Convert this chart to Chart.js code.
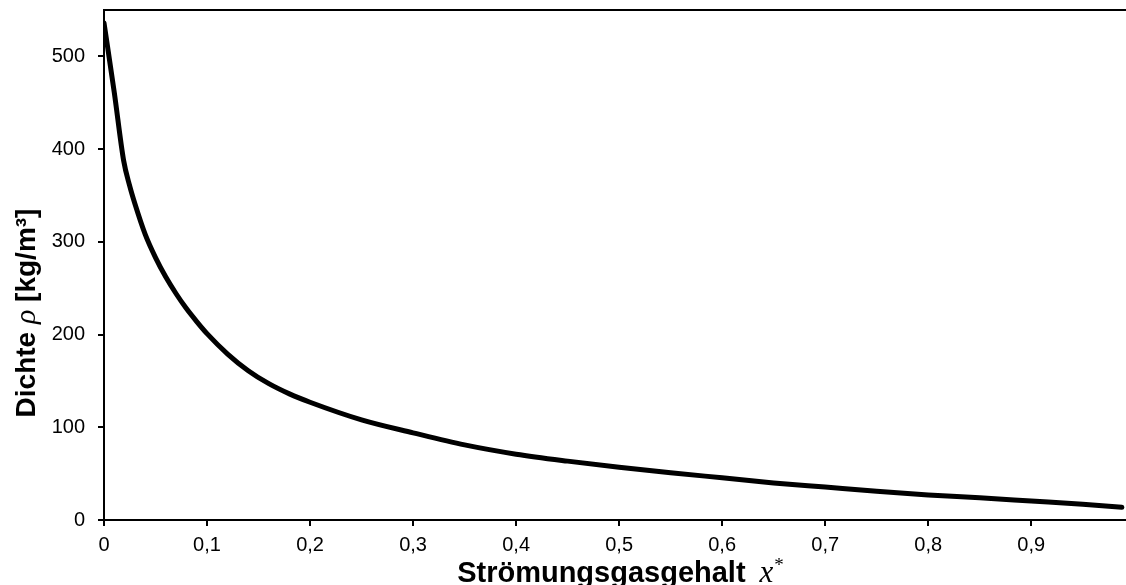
<!DOCTYPE html>
<html>
<head>
<meta charset="utf-8">
<script src="https://cdn.jsdelivr.net/npm/chart.js@4"></script>
<style>
  html, body { margin: 0; padding: 0; background: #fff; }
  #wrap { width: 1126px; height: 585px; }
</style>
</head>
<body>
<div id="wrap"><canvas id="densityChart" width="1126" height="585"></canvas></div>
<script>
// Strömungsgasgehalt x* and Dichte rho [kg/m3]
const gasContent = [0, 0.01, 0.019, 0.025, 0.03, 0.04, 0.05, 0.06, 0.07, 0.08, 0.09, 0.1,
  0.12, 0.14, 0.16, 0.18, 0.2, 0.25, 0.3, 0.35, 0.4, 0.45, 0.5, 0.55, 0.6,
  0.65, 0.7, 0.75, 0.8, 0.85, 0.9, 0.95, 0.988];
const density = [536, 461, 388, 360, 341, 308, 283, 262, 244, 228, 214, 201,
  179, 161, 147, 136, 127, 108, 94, 81, 71, 63.5, 57, 51, 45.5,
  40, 35.5, 31, 27, 24, 20.5, 17, 13.7];

const xMax = 0.992;
const yMax = 550;

const tickFont = { family: 'Liberation Sans, Arial, sans-serif', size: 20 };

const fmtComma = v => v === 0 ? '0' : (Math.round(v * 10) / 10).toFixed(1).replace('.', ',');

const noPad = s => { s.paddingTop = 0; s.paddingBottom = 0; s.paddingLeft = 0; s.paddingRight = 0; };

// axis titles with mixed fonts (bold sans + italic serif symbol)
const axisTitles = {
  id: 'axisTitles',
  afterDraw(chart) {
    const { ctx, chartArea } = chart;
    ctx.save();
    ctx.fillStyle = '#000';
    ctx.textBaseline = 'alphabetic';
    ctx.textAlign = 'left';

    // x title
    const boldX = 'bold 29px "Liberation Sans", Arial, sans-serif';
    const serifI = 'italic 31px "Liberation Serif", "Times New Roman", serif';
    const starF = '19px "Liberation Serif", "Times New Roman", serif';
    const t1 = 'Strömungsgasgehalt';
    ctx.font = boldX; const w1 = ctx.measureText(t1).width;
    ctx.font = serifI; const w2 = ctx.measureText('x').width;
    ctx.font = starF; const w3 = ctx.measureText('*').width;
    const gap = 14;
    let x = 620 - (w1 + gap + w2 + w3) / 2;
    const base = 582;
    ctx.font = boldX; ctx.fillText(t1, x, base); x += w1 + gap;
    ctx.font = serifI; ctx.fillText('x', x, base); x += w2 + 1;
    ctx.font = starF; ctx.fillText('*', x, base - 11);

    // y title, rotated
    const boldY = 'bold 28px "Liberation Sans", Arial, sans-serif';
    const rhoF = 'italic 30px "Liberation Serif", "Times New Roman", serif';
    const a = 'Dichte ', b = 'ρ', c = ' [kg/m³]';
    ctx.font = boldY; const wa = ctx.measureText(a).width, wc = ctx.measureText(c).width;
    ctx.font = rhoF; const wb = ctx.measureText(b).width;
    ctx.translate(35, 313);
    ctx.rotate(-Math.PI / 2);
    let p = -(wa + wb + wc) / 2;
    ctx.font = boldY; ctx.fillText(a, p, 0); p += wa;
    ctx.font = rhoF; ctx.fillText(b, p, 0); p += wb;
    ctx.font = boldY; ctx.fillText(c, p, 0);
    ctx.restore();

    // top frame line
    ctx.save();
    ctx.strokeStyle = '#000';
    ctx.lineWidth = 2;
    ctx.beginPath();
    ctx.moveTo(chartArea.left, chartArea.top);
    ctx.lineTo(chartArea.right, chartArea.top);
    ctx.stroke();
    ctx.restore();
  }
};

new Chart(document.getElementById('densityChart'), {
  type: 'line',
  data: {
    datasets: [{
      data: gasContent.map((g, i) => ({ x: g, y: density[i] })),
      borderColor: '#000',
      borderWidth: 5,
      borderCapStyle: 'round',
      borderJoinStyle: 'round',
      pointRadius: 0,
      cubicInterpolationMode: 'monotone',
      fill: false
    }]
  },
  options: {
    responsive: false,
    animation: false,
    layout: { padding: { top: 10, left: 0, right: 0, bottom: 0 } },
    plugins: { legend: { display: false }, tooltip: { enabled: false } },
    scales: {
      x: {
        type: 'linear',
        min: 0,
        max: xMax,
        border: { display: true, color: '#000', width: 2 },
        grid: { drawOnChartArea: false, drawTicks: true, tickLength: 6, color: '#000', lineWidth: 2 },
        ticks: {
          stepSize: 0.1,
          includeBounds: false,
          color: '#000',
          font: tickFont,
          padding: 7,
          maxRotation: 0,
          autoSkip: false,
          callback: fmtComma
        },
        afterFit: s => { s.height = 65; noPad(s); }
      },
      y: {
        min: 0,
        max: yMax,
        border: { display: true, color: '#000', width: 2 },
        grid: { drawOnChartArea: false, drawTicks: true, tickLength: 6, color: '#000', lineWidth: 2 },
        ticks: {
          stepSize: 100,
          includeBounds: false,
          color: '#000',
          font: tickFont,
          padding: 13
        },
        afterFit: s => { s.width = 104; noPad(s); }
      }
    }
  },
  plugins: [axisTitles]
});
</script>
</body>
</html>
